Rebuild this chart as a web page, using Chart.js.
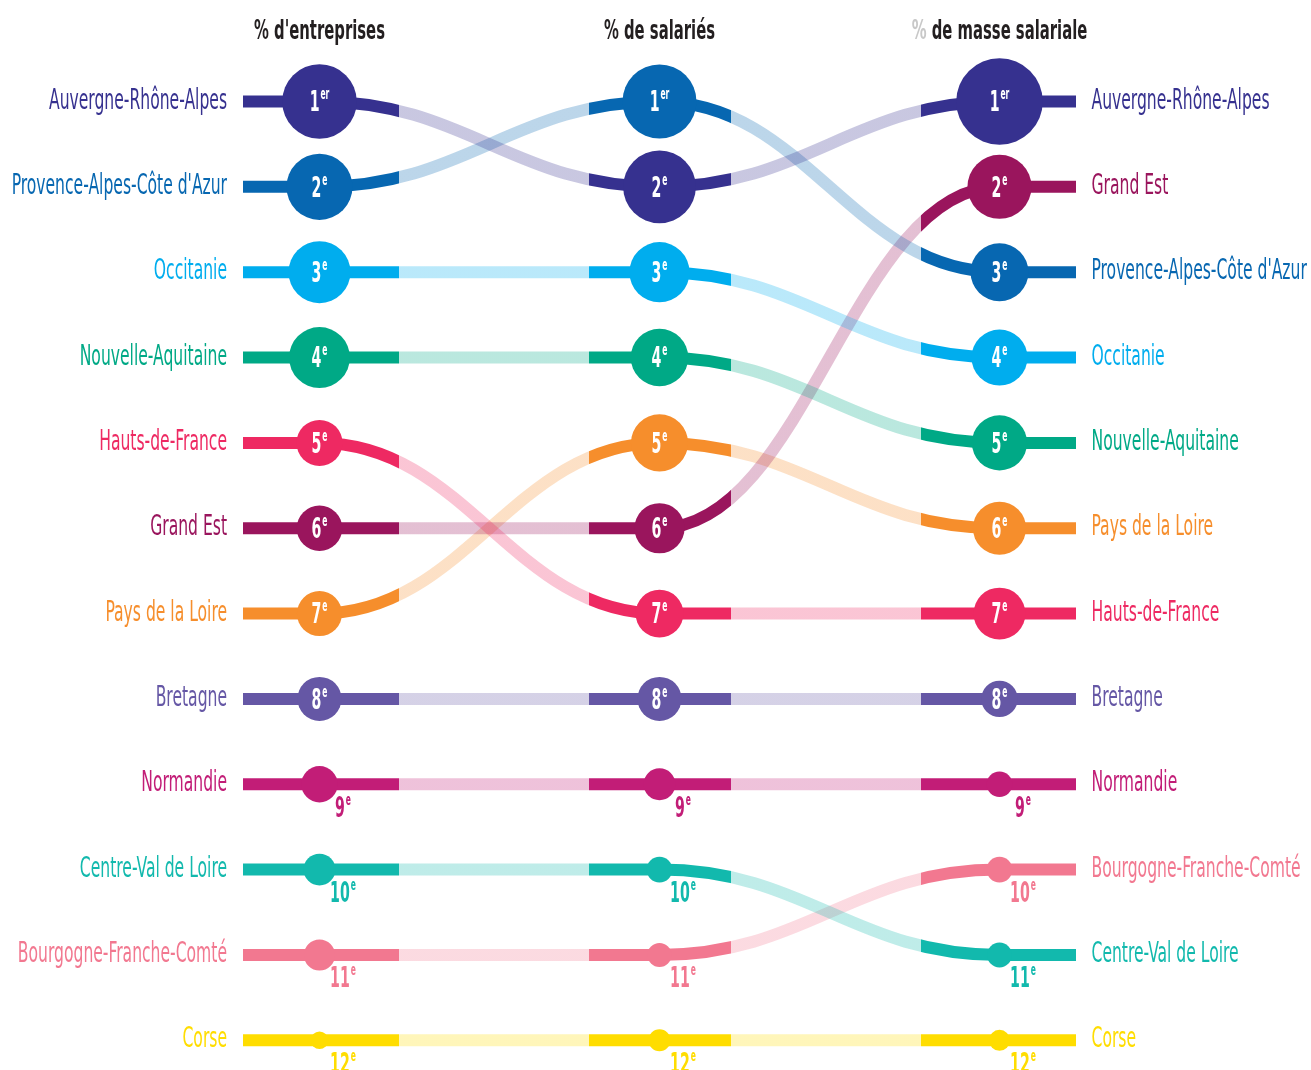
<!DOCTYPE html>
<html lang="fr">
<head>
<meta charset="utf-8">
<title>Classement des régions</title>
<script src="https://cdn.jsdelivr.net/npm/chart.js@4.4.1/dist/chart.umd.min.js"></script>
<style>
  html, body { margin: 0; padding: 0; background: #fff; }
  canvas { display: block; }
</style>
</head>
<body>
<canvas id="rankChart" width="1311" height="1070"></canvas>
<script>
// --- data ---
const columns = ["% d'entreprises", '% de salariés', '% de masse salariale'];
const regions = [
    'Auvergne-Rhône-Alpes', "Provence-Alpes-Côte d'Azur", 'Occitanie', 'Nouvelle-Aquitaine',
    'Hauts-de-France', 'Grand Est', 'Pays de la Loire', 'Bretagne',
    'Normandie', 'Centre-Val de Loire', 'Bourgogne-Franche-Comté', 'Corse'
];
const rankEntreprises = [1, 2, 3, 4, 5, 6, 7, 8, 9, 10, 11, 12];
const rankSalaries    = [2, 1, 3, 4, 7, 6, 5, 8, 9, 10, 11, 12];
const rankMasse       = [1, 3, 4, 5, 7, 2, 6, 8, 9, 11, 10, 12];
// shares (%) estimated from the circle sizes
const shareEntreprises = [12.6, 9.9, 8.7, 8.4, 4.8, 4.7, 4.6, 4.4, 3.0, 2.3, 2.2, 0.7];
const shareSalaries    = [12.0, 12.4, 8.2, 7.5, 5.2, 5.7, 7.4, 4.4, 2.3, 1.5, 1.3, 1.1];
const shareMasse       = [17.0, 7.6, 7.1, 6.9, 6.1, 9.3, 6.4, 3.0, 1.5, 1.4, 1.5, 1.0];

const regionColors = [
    '#36318f', '#0767b1', '#00adee', '#00a986', '#ee2962', '#9a155d',
    '#f68e2c', '#6557a5', '#c21d77', '#12b9ad', '#f27890', '#ffdd00'
];

// --- style constants ---
const ranks = [rankEntreprises, rankSalaries, rankMasse];
const shares = [shareEntreprises, shareSalaries, shareMasse];
const STUB = 0.225;          // horizontal stub before first / after last column
const RADIUS_K = 10.5;       // px per sqrt(%)
const SOLID = [79, 71, 79];  // px of solid line on each side of a column
const PULL = 0.43;           // control point distance (fraction of column gap)
const FONT = "'Liberation Sans Narrow', 'DejaVu Sans Condensed', 'Arial Narrow', sans-serif";
const NAME_FONT = '29px ' + FONT;
const HEAD_FONT = 'bold 27px ' + FONT;
const RANK_FONT = 'bold 28px ' + FONT;
const SUP_FONT = 'bold 15px ' + FONT;

function stripe(chart, color) {
    const area = chart.chartArea;
    const xs = chart.scales.x;
    if (!area || !xs) return color;
    const p = [0, 1, 2].map(c => xs.getPixelForValue(c));
    if (p.some(v => !isFinite(v))) return color;
    const w = area.right - area.left;
    const f = px => Math.min(1, Math.max(0, (px - area.left) / w));
    const light = color + '45';
    const g = chart.ctx.createLinearGradient(area.left, 0, area.right, 0);
    g.addColorStop(0, color);
    g.addColorStop(f(p[0] + SOLID[0]), color);
    g.addColorStop(f(p[0] + SOLID[0]), light);
    g.addColorStop(f(p[1] - SOLID[1]), light);
    g.addColorStop(f(p[1] - SOLID[1]), color);
    g.addColorStop(f(p[1] + SOLID[1]), color);
    g.addColorStop(f(p[1] + SOLID[1]), light);
    g.addColorStop(f(p[2] - SOLID[2]), light);
    g.addColorStop(f(p[2] - SOLID[2]), color);
    g.addColorStop(1, color);
    return g;
}

function squeezed(ctx, text, x, y, sx) {
    ctx.save();
    ctx.translate(x, y);
    ctx.scale(sx, 1);
    ctx.textAlign = 'left';
    ctx.textBaseline = 'alphabetic';
    ctx.fillText(text, 0, 0);
    ctx.restore();
}

function textWidth(ctx, font, text, sx) {
    ctx.font = font;
    return ctx.measureText(text).width * sx;
}

function drawRank(ctx, rank, cx, cy, color, sx) {
    const num = String(rank);
    const sup = rank === 1 ? 'er' : 'e';
    const wn = textWidth(ctx, RANK_FONT, num, sx);
    const ws = textWidth(ctx, SUP_FONT, sup, sx);
    const left = cx - (wn + 1 + ws) / 2;
    const base = cy + 9.8;
    ctx.fillStyle = color;
    ctx.font = RANK_FONT;
    squeezed(ctx, num, left, base, sx);
    ctx.font = SUP_FONT;
    squeezed(ctx, sup, left + wn + 1, base - 12, sx);
}

const lineDatasets = regions.map((name, i) => ({
    type: 'line',
    label: name,
    data: [
        { x: -STUB, y: rankEntreprises[i] },
        { x: 0, y: rankEntreprises[i] },
        { x: 1, y: rankSalaries[i] },
        { x: 2, y: rankMasse[i] },
        { x: 2 + STUB, y: rankMasse[i] }
    ],
    borderColor: ctx => stripe(ctx.chart, regionColors[i]),
    borderWidth: 12,
    borderCapStyle: 'butt',
    cubicInterpolationMode: 'monotone',
    pointRadius: 0,
    pointHoverRadius: 0,
    fill: false,
    clip: false,
    order: 2
}));

const circleDatasets = ranks.map((r, c) => ({
    type: 'scatter',
    label: columns[c],
    data: r.map(v => ({ x: c, y: v })),
    pointRadius: shares[c].map(v => RADIUS_K * Math.sqrt(v)),
    pointHoverRadius: shares[c].map(v => RADIUS_K * Math.sqrt(v)),
    pointBackgroundColor: regionColors,
    pointBorderColor: regionColors,
    pointBorderWidth: 0,
    clip: false,
    order: 1
}));

// make the S-curves a bit steeper in the middle
const curvePlugin = {
    id: 'curveShape',
    beforeDatasetsDraw(chart) {
        chart.data.datasets.forEach((ds, di) => {
            if (ds.type !== 'line') return;
            const meta = chart.getDatasetMeta(di);
            const line = meta.dataset;
            if (!line || typeof line.updateControlPoints !== 'function') return;
            line.updateControlPoints(chart.chartArea, 'x');
            const pts = meta.data;
            for (let k = 0; k < pts.length - 1; k++) {
                const a = pts[k], b = pts[k + 1];
                const d = (b.x - a.x) * PULL;
                a.cp2x = a.x + d; a.cp2y = a.y;
                b.cp1x = b.x - d; b.cp1y = b.y;
            }
        });
    }
};

const labelPlugin = {
    id: 'rankLabels',
    afterDatasetsDraw(chart) {
        const ctx = chart.ctx;
        const xs = chart.scales.x, ys = chart.scales.y;
        ctx.font = NAME_FONT;
        const nameScale = 178 / ctx.measureText('Auvergne-Rhône-Alpes').width;
        ctx.font = HEAD_FONT;
        const boldScale = 131 / ctx.measureText("% d'entreprises").width;

        // column titles
        const pctColors = ['#231f20', '#231f20', '#c8c8c8'];
        columns.forEach((title, c) => {
            const cx = xs.getPixelForValue(c);
            const w = textWidth(ctx, HEAD_FONT, title, boldScale);
            const wp = textWidth(ctx, HEAD_FONT, title.slice(0, 1), boldScale);
            const left = cx - w / 2;
            ctx.font = HEAD_FONT;
            ctx.fillStyle = pctColors[c];
            squeezed(ctx, title.slice(0, 1), left, 39, boldScale);
            ctx.fillStyle = '#231f20';
            squeezed(ctx, title.slice(1), left + wp, 39, boldScale);
        });

        // region names
        const xLeft = xs.getPixelForValue(0) - 92.5;
        const xRight = xs.getPixelForValue(2) + 92;
        regions.forEach((name, i) => {
            ctx.font = NAME_FONT;
            ctx.fillStyle = regionColors[i];
            const w = textWidth(ctx, NAME_FONT, name, nameScale);
            squeezed(ctx, name, xLeft - w, ys.getPixelForValue(rankEntreprises[i]) + 7, nameScale);
            squeezed(ctx, name, xRight, ys.getPixelForValue(rankMasse[i]) + 7, nameScale);
        });

        // rank labels
        ranks.forEach((r, c) => {
            const cx = xs.getPixelForValue(c);
            r.forEach((rank, i) => {
                const cy = ys.getPixelForValue(rank);
                if (rank <= 8) {
                    drawRank(ctx, rank, cx, cy, '#ffffff', boldScale * 0.92);
                } else {
                    drawRank(ctx, rank, cx + 23.5, cy + 22.5, regionColors[i], boldScale * 0.92);
                }
            });
        });
    }
};

new Chart(document.getElementById('rankChart'), {
    data: { datasets: [...circleDatasets, ...lineDatasets] },
    options: {
        responsive: false,
        animation: false,
        events: [],
        layout: { autoPadding: false, padding: { left: 243, right: 235, top: 101.5, bottom: 29.7 } },
        scales: {
            x: { type: 'linear', min: -STUB, max: 2 + STUB, display: false },
            y: { type: 'linear', min: 1, max: 12, reverse: true, display: false }
        },
        plugins: {
            legend: { display: false },
            tooltip: { enabled: false }
        }
    },
    plugins: [curvePlugin, labelPlugin]
});
</script>
</body>
</html>
